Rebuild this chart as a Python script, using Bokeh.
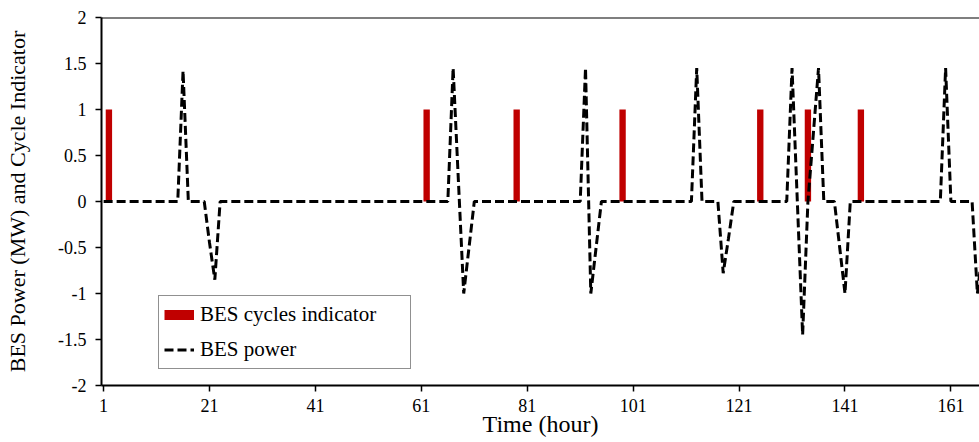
from bokeh.plotting import figure
from bokeh.models import FixedTicker, Span, Legend, LegendItem, Range1d
from bokeh.embed import file_html
from bokeh.resources import INLINE

# ---- data ----
hours = list(range(1, 169))
event_hours = [16, 21, 22, 67, 68, 69, 70, 92, 93, 94, 113, 118, 119,
               131, 133, 135, 136, 140, 141, 160, 166, 167]
event_power = [1.42, -0.45, -0.85, 1.45, 0.22, -1.0, -0.5, 1.45, -1.0, -0.5, 1.45, -0.78, -0.4,
               1.45, -1.45, 0.72, 1.45, -0.5, -1.0, 1.45, -1.0, -0.5]
cycle_hours = [2, 62, 79, 99, 125, 134, 144]
cycle_values = [1, 1, 1, 1, 1, 1, 1]

x_ticks = [1, 21, 41, 61, 81, 101, 121, 141, 161]
y_ticks = [-2, -1.5, -1, -0.5, 0, 0.5, 1, 1.5, 2]
y_tick_labels = ["-2", "-1.5", "-1", "-0.5", "0", "0.5", "1", "1.5", "2"]

x_title = "Time (hour)"
y_title = "BES Power (MW) and Cycle Indicator"
series_names = ["BES cycles indicator", "BES power"]

# full hourly power series (zero outside the listed events)
power = [0.0] * len(hours)
for h, v in zip(event_hours, event_power):
    power[hours.index(h)] = v

FONT = "'Liberation Serif', serif"
RED = "#C00000"

p = figure(width=979, height=442, output_backend="svg", toolbar_location=None,
           x_range=Range1d(0.6, 166.4), y_range=Range1d(-2, 2),
           min_border_left=101, min_border_right=0, min_border_top=17, min_border_bottom=57)
p.outline_line_color = None
p.grid.visible = False
p.background_fill_color = "white"
p.border_fill_color = "white"

bars = p.vbar(x=cycle_hours, top=cycle_values, bottom=0, width=1.2,
              fill_color=RED, line_color=None)
line = p.line(x=hours, y=power, line_color="black", line_width=3, line_dash="9 4")
# legend swatch for the bars (single point: draws nothing in the plot)
bar_proxy = p.line(x=cycle_hours[:1], y=cycle_values[:1], line_color=RED, line_width=10)

# top frame border
p.add_layout(Span(location=2, dimension="width", line_color="black", line_width=2))

for ax in (p.xaxis, p.yaxis):
    ax.axis_line_color = "black"
    ax.axis_line_width = 2
    ax.major_tick_line_color = "black"
    ax.major_tick_line_width = 1.5
    ax.major_tick_out = 6
    ax.major_tick_in = 0
    ax.minor_tick_line_color = None
    ax.major_label_text_font = FONT
    ax.major_label_text_color = "black"
    ax.axis_label_text_font = FONT
    ax.axis_label_text_font_style = "normal"
    ax.axis_label_text_color = "black"

p.xaxis.ticker = FixedTicker(ticks=x_ticks)
p.xaxis.major_label_text_font_size = "18px"
p.xaxis.major_label_standoff = 7
p.xaxis.axis_label = x_title
p.xaxis.axis_label_text_font_size = "24px"
p.xaxis.axis_label_standoff = -4

p.yaxis.ticker = FixedTicker(ticks=y_ticks)
p.yaxis.major_label_overrides = {t: lab for t, lab in zip(y_ticks, y_tick_labels)}
p.yaxis.major_label_text_font_size = "18px"
p.yaxis.major_label_standoff = 9
p.yaxis.axis_label = y_title
p.yaxis.axis_label_text_font_size = "22px"
p.yaxis.axis_label_standoff = 25

legend = Legend(items=[LegendItem(label=series_names[0], renderers=[bar_proxy]),
                       LegendItem(label=series_names[1], renderers=[line])],
                location=(57, 16), margin=0, padding=5, spacing=8,
                glyph_width=30, glyph_height=27, label_height=27, label_width=205,
                label_standoff=6, label_text_font=FONT, label_text_font_size="21px",
                label_text_color="black",
                border_line_color="#222222", border_line_width=1.5,
                background_fill_color="white", background_fill_alpha=1)
p.add_layout(legend, "center")

open("out.html", "w").write(file_html(p, INLINE))
